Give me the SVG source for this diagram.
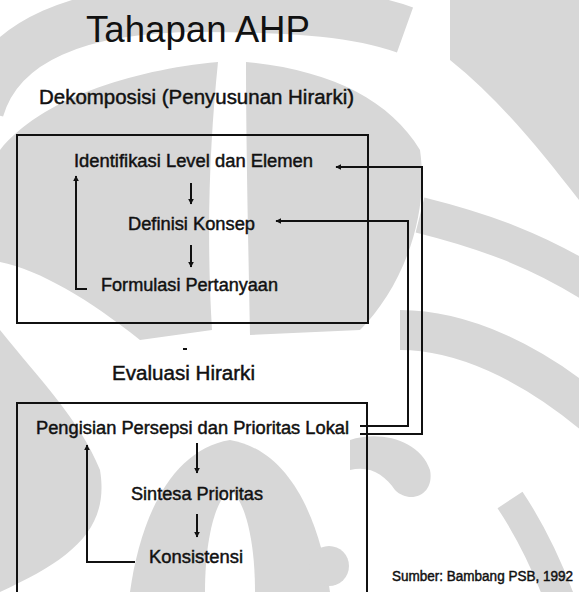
<svg xmlns="http://www.w3.org/2000/svg" width="579" height="592" viewBox="0 0 579 592">
<style>
  .t { font-family: "Liberation Sans", Arial, Helvetica, sans-serif; fill: #111; }
  .b { stroke: #111; stroke-width: 0.45; }
  .ln { fill: none; stroke: #111; stroke-width: 2; }
  .wm { fill: none; stroke: #d7d7d7; }
  .wf { fill: #d7d7d7; }
</style>
<defs>
  <marker id="ah" viewBox="0 0 10 10" refX="9" refY="5" markerWidth="6" markerHeight="6" markerUnits="userSpaceOnUse" orient="auto">
    <path d="M0,0 L10,5 L0,10 Z" fill="#111"/>
  </marker>
</defs>
<rect width="579" height="592" fill="#ffffff"/>
<g id="watermark">
  <path class="wm" stroke-width="48" d="M-20,110 C0,40 80,8 200,8 C300,8 360,14 405,30"/>
  <path class="wf" d="M0,150 C40,100 130,70 218,62 C210,140 206,230 212,330 L140,340 C90,300 40,270 0,262 Z"/>
  <path class="wf" d="M246,62 C330,70 390,100 420,150 C430,220 400,290 360,330 L250,335 C248,230 246,140 246,62 Z"/>
  <path class="wf" d="M450,0 L579,0 L579,200 C540,150 500,100 450,60 Z"/>
  <path class="wm" stroke-width="36" d="M420,215 C480,230 540,250 600,290"/>
  <path class="wm" stroke-width="40" d="M400,330 C460,330 530,360 600,420"/>
  <path class="wf" d="M0,330 C40,380 80,420 100,470 C110,530 70,560 0,592 Z"/>
  <path class="wf" d="M130,592 C140,520 170,450 230,440 C290,450 320,520 330,592 Z"/>
  <path fill="#ffffff" d="M205,592 C205,540 215,500 230,490 C245,500 255,540 255,592 Z"/>
  <circle class="wf" cx="329" cy="566" r="20"/>
  <path class="wf" d="M350,440 C380,430 420,440 430,470 C435,495 410,505 395,490 C385,475 370,465 350,470 Z"/>
  <path class="wm" stroke-width="30" d="M510,500 C530,530 545,560 560,600"/>
</g>
<g id="title"><text class="t" x="86" y="42" font-size="37" textLength="224" lengthAdjust="spacingAndGlyphs">Tahapan AHP</text></g>
<g id="sec1-label"><text class="t b" x="39" y="104" font-size="20.5" textLength="315" lengthAdjust="spacingAndGlyphs">Dekomposisi (Penyusunan Hirarki)</text></g>
<g id="box1"><rect class="ln" x="17" y="135" width="351" height="188"/></g>
<g id="n-identifikasi"><text class="t b" x="74" y="167" font-size="18" textLength="239" lengthAdjust="spacingAndGlyphs">Identifikasi Level dan Elemen</text></g>
<g id="n-definisi"><text class="t b" x="128" y="229.5" font-size="18" textLength="127" lengthAdjust="spacingAndGlyphs">Definisi Konsep</text></g>
<g id="n-formulasi"><text class="t b" x="101" y="291" font-size="18" textLength="177" lengthAdjust="spacingAndGlyphs">Formulasi Pertanyaan</text></g>
<g id="sec2-label"><text class="t b" x="112" y="380" font-size="20" textLength="143" lengthAdjust="spacingAndGlyphs">Evaluasi Hirarki</text></g>
<g id="box2"><path class="ln" d="M17,594 V403 H367 V594"/></g>
<g id="n-pengisian"><text class="t b" x="36" y="434" font-size="18" textLength="313" lengthAdjust="spacingAndGlyphs">Pengisian Persepsi dan Prioritas Lokal</text></g>
<g id="n-sintesa"><text class="t b" x="131" y="499.5" font-size="18" textLength="132" lengthAdjust="spacingAndGlyphs">Sintesa Prioritas</text></g>
<g id="n-konsistensi"><text class="t b" x="149" y="563" font-size="18" textLength="94" lengthAdjust="spacingAndGlyphs">Konsistensi</text></g>
<g id="source"><text class="t b" x="392" y="581" font-size="13.8" textLength="181" lengthAdjust="spacingAndGlyphs">Sumber: Bambang PSB, 1992</text></g>
<g id="connectors">
  <path class="ln" d="M87,289 H76 V176" marker-end="url(#ah)"/>
  <path class="ln" d="M191,183 V204" marker-end="url(#ah)"/>
  <path class="ln" d="M191,245 V267" marker-end="url(#ah)"/>
  <path class="ln" d="M360,426 H408 V221 H276" marker-end="url(#ah)"/>
  <path class="ln" d="M360,434 H422 V167 H336" marker-end="url(#ah)"/>
  <path class="ln" d="M135,562 H87 V445" marker-end="url(#ah)"/>
  <path class="ln" d="M197,443 V473" marker-end="url(#ah)"/>
  <path class="ln" d="M197,514 V537" marker-end="url(#ah)"/>
  <path class="ln" stroke-width="1.5" d="M183,349 H187"/>
</g>
</svg>
